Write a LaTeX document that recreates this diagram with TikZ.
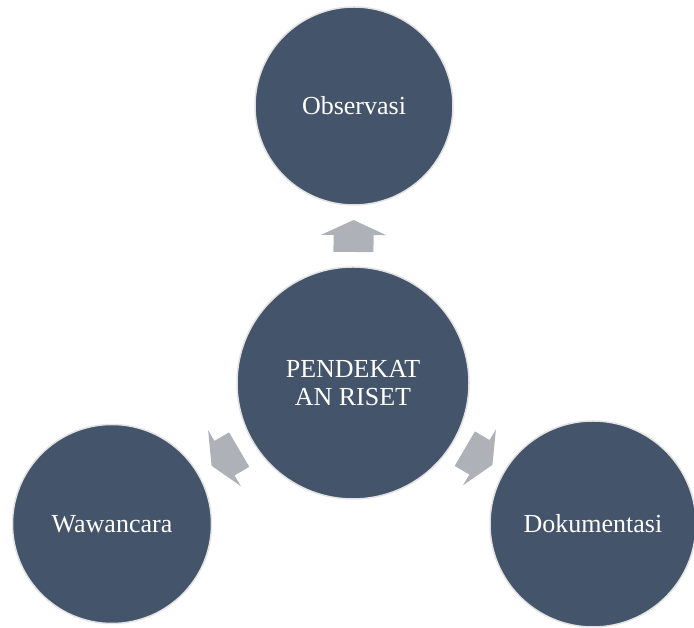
\documentclass[tikz,border=0pt]{standalone}
\usepackage{fontspec}
\setmainfont{Liberation Serif}
\usepackage{tikz}
\usetikzlibrary{calc}
\usepackage{xcolor}
\definecolor{slateblue}{RGB}{68,84,106}
\definecolor{ringgray}{RGB}{226,226,226}
\definecolor{arrowgray}{RGB}{174,177,184}

\tikzset{
  bubble/.style={circle, fill=slateblue, draw=ringgray, line width=1.5pt,
    inner sep=0pt, text=white, align=center,
    font=\fontsize{26}{28}\selectfont},
  blockarrow/.pic={
    \fill[arrowgray] (-16,-20) -- (1,-20) -- (1,-32.5) -- (16,0)
      -- (1,32.5) -- (1,20) -- (-16,20) -- cycle;
  }
}

\begin{document}
\begin{tikzpicture}[x=1pt,y=1pt]
\useasboundingbox (0,0) rectangle (694,628);

% Centre
\node[bubble, minimum size=232pt] (centre) at (353,245) {PENDEKAT\\AN RISET};

% Outer circles
\node[bubble, minimum size=198pt] (obs) at (354,522) {Observasi};
\node[bubble, minimum size=199pt] (waw) at (112,104) {Wawancara};
\node[bubble, minimum size=206pt] (dok) at (593,104) {Dokumentasi};

% Arrows
\path (centre) -- (obs) pic[midway, sloped, allow upside down] {blockarrow};
\path (centre) -- (waw) pic[midway, sloped, allow upside down] {blockarrow};
\path (centre) -- (dok) pic[midway, sloped, allow upside down] {blockarrow};
\end{tikzpicture}
\end{document}
